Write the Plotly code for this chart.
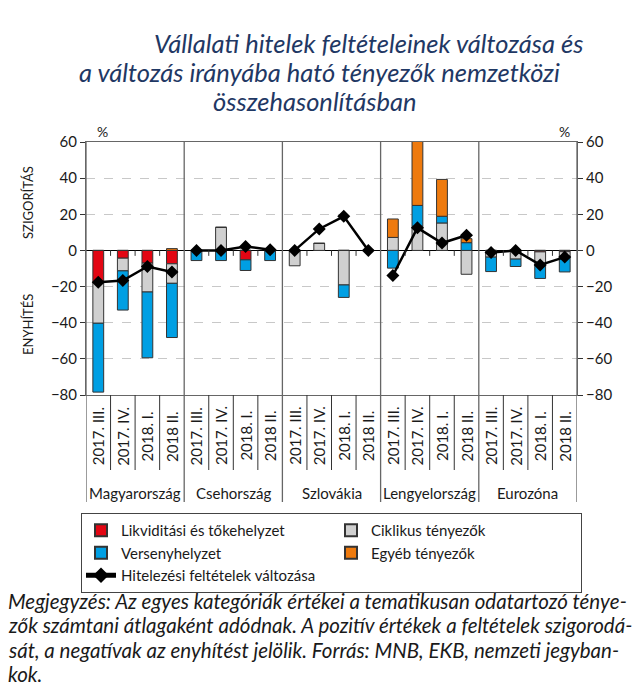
import plotly.graph_objects as go

countries = ["Magyarország", "Csehország", "Szlovákia", "Lengyelország", "Eurozóna"]
periods = ["2017. III.", "2017. IV.", "2018. I.", "2018 II."]

likviditasi = [-17.5, -4.3, -7.0, -7.4, 0, 0, -5.2, 0, 0, 0, 0, 0, 0, 0, 0, 0, 0, 0, -0.8, -0.7]
ciklikus = [-22.8, -7.0, -16.0, -10.8, 0, 12.8, 0, 0, -8.5, 3.9, -19.1, 0,
            7.2, 13.4, 15.2, -13.2, -3.7, -4.8, -7.3, -2.5]
verseny = [-38.1, -21.7, -36.4, -30.0, -5.6, -5.6, -5.9, -5.6, 0, 0, -6.9, 0,
           -9.8, 11.5, 3.7, 4.3, -8.0, -4.1, -7.4, -8.7]
egyeb = [0, 0, 0, 1.0, 0, 0, 0, 0, 0, 0, 0, 0, 10.2, 37.0, 20.4, 2.2, 0, 0, 0, 0]
feltetelek = [-17.6, -16.7, -8.9, -11.9, 0, 0, 2.2, 0.4, 0, 11.9, 18.9, 0,
              -13.9, 12.5, 4.1, 8.4, -1.1, 0, -8.0, -3.7]

y_ticks = [60, 40, 20, 0, -20, -40, -60, -80]

n = len(countries) * len(periods)
xs = list(range(n))

FONT = "Lato"
TXT = "#1a1a1a"
# page body margin (figure starts 8px in from the window corner)
OFF = 8
FW, FH = 640 - OFF, 685 - OFF
# plot area in absolute window pixels
L, R, T, B = 86, 577, 142, 395
W, H = R - L, B - T


def px(xp):
    return (xp - L) / W


def py(yp):
    return (B - yp) / H


fig = go.Figure()
bar_kw = dict(width=0.44, marker_line=dict(color="#333333", width=1))
fig.add_bar(x=xs, y=likviditasi, name="Likviditási és tőkehelyzet",
            marker_color="#E30613", **bar_kw)
fig.add_bar(x=xs, y=ciklikus, name="Ciklikus tényezők",
            marker_color="#D0D0D0", **bar_kw)
fig.add_bar(x=xs, y=verseny, name="Versenyhelyzet",
            marker_color="#009FE3", **bar_kw)
fig.add_bar(x=xs, y=egyeb, name="Egyéb tényezők",
            marker_color="#EE7A0E", **bar_kw)

# line by country segments
for g in range(len(countries)):
    seg = slice(g * 4, g * 4 + 4)
    fig.add_scatter(x=xs[seg], y=feltetelek[seg], mode="lines+markers",
                    name="Hitelezési feltételek változása",
                    line=dict(color="black", width=2.5),
                    marker=dict(symbol="diamond", size=10, color="black"),
                    showlegend=(g == 0), legendgroup="line")

# invisible trace on y2 to keep right axis
fig.add_scatter(x=[0], y=[0], yaxis="y2", mode="markers",
                marker=dict(opacity=0), showlegend=False, hoverinfo="skip")

shapes = []
grid_col = "#666666"
# group separators through plot and label area
for b in [-0.5, 3.5, 7.5, 11.5, 15.5, 19.5]:
    shapes.append(dict(type="line", xref="x", yref="paper", x0=b, x1=b,
                       y0=py(502), y1=1, line=dict(color=grid_col, width=1.3)))
# within-group separators in label area
for g in range(len(countries)):
    for k in range(1, 4):
        b = g * 4 + k - 0.5
        shapes.append(dict(type="line", xref="x", yref="paper", x0=b, x1=b,
                           y0=py(470), y1=0, line=dict(color="#333333", width=1)))
        # small ticks at zero line
        shapes.append(dict(type="line", xref="x", yref="y", x0=b, x1=b,
                           y0=0, y1=-3, line=dict(color="#333333", width=1)))

C = dict(xanchor="center", yanchor="middle", showarrow=False)
annotations = []
for g, c in enumerate(countries):
    annotations.append(dict(text=c, xref="x", yref="paper", x=g * 4 + 1.5,
                            y=py(493), font=dict(family=FONT, size=15, color=TXT), **C))
    for k, p in enumerate(periods):
        annotations.append(dict(text=p, xref="x", yref="paper", x=g * 4 + k,
                                y=py(436), textangle=-90,
                                font=dict(family=FONT, size=15, color=TXT), **C))

annotations += [
    dict(text="SZIGORÍTÁS", xref="paper", yref="paper", x=px(28), y=py(203),
         textangle=-90, font=dict(family=FONT, size=13, color=TXT), **C),
    dict(text="ENYHÍTÉS", xref="paper", yref="paper", x=px(28), y=py(325),
         textangle=-90, font=dict(family=FONT, size=13, color=TXT), **C),
    dict(text="%", xref="paper", yref="paper", x=px(102), y=py(131),
         font=dict(family=FONT, size=14, color=TXT), **C),
    dict(text="%", xref="paper", yref="paper", x=px(564), y=py(131),
         font=dict(family=FONT, size=14, color=TXT), **C),
]

title_col = "#1F3864"
title_lines = [
    ("Vállalati hitelek feltételeinek változása és", 368, 43),
    ("a változás irányába ható tényezők nemzetközi", 319, 72),
    ("összehasonlításban", 315, 101),
]
for t, cx, cy in title_lines:
    annotations.append(dict(text="<i>" + t + "</i>", xref="paper", yref="paper",
                            x=px(cx), y=py(cy),
                            font=dict(family=FONT, size=25.5, color=title_col), **C))

note_lines = [
    "Megjegyzés: Az egyes kategóriák értékei a tematikusan odatartozó tényе-",
    "zők számtani átlagaként adódnak. A pozitív értékek a feltételek szigorodá-",
    "sát, a negatívak az enyhítést jelölik. Forrás: MNB, EKB, nemzeti jegyban-",
    "kok.",
]
for i, t in enumerate(note_lines):
    annotations.append(dict(text="<i>" + t + "</i>", xref="paper", yref="paper",
                            x=px(6), y=py(601 + i * 24.3), xanchor="left",
                            yanchor="middle", showarrow=False,
                            font=dict(family=FONT, size=20.5, color=TXT)))

fig.update_layout(
    width=FW, height=FH,
    margin=dict(l=L - OFF, r=FW - (R - OFF), t=T - OFF, b=FH - (B - OFF),
                autoexpand=False),
    paper_bgcolor="white", plot_bgcolor="white",
    barmode="relative", bargap=0.56,
    showlegend=True,
    legend=dict(orientation="h", x=px(81), y=py(513), xanchor="left", yanchor="top",
                entrywidth=205, entrywidthmode="pixels",
                bordercolor="#444444", borderwidth=1,
                font=dict(family=FONT, size=15, color=TXT),
                tracegroupgap=0, itemsizing="constant"),
    xaxis=dict(range=[-0.5, n - 0.5], showticklabels=False, showgrid=False,
               zeroline=False, showline=True, linecolor=grid_col, mirror=True,
               ticks=""),
    yaxis=dict(range=[-80, 60], tickvals=y_ticks, showgrid=True,
               gridcolor="#C8C8C8", griddash="dash", gridwidth=1,
               zeroline=True, zerolinecolor="black", zerolinewidth=1.3,
               showline=True, linecolor=grid_col, ticks="outside", ticklen=5,
               tickcolor="#333", tickfont=dict(family=FONT, size=15, color=TXT)),
    yaxis2=dict(range=[-80, 60], tickvals=y_ticks, overlaying="y", side="right",
                showgrid=False, zeroline=False, showline=True, linecolor=grid_col,
                ticks="outside", ticklen=5, tickcolor="#333",
                tickfont=dict(family=FONT, size=15, color=TXT)),
    shapes=shapes,
    annotations=annotations,
)

fig.write_html("out.html")
